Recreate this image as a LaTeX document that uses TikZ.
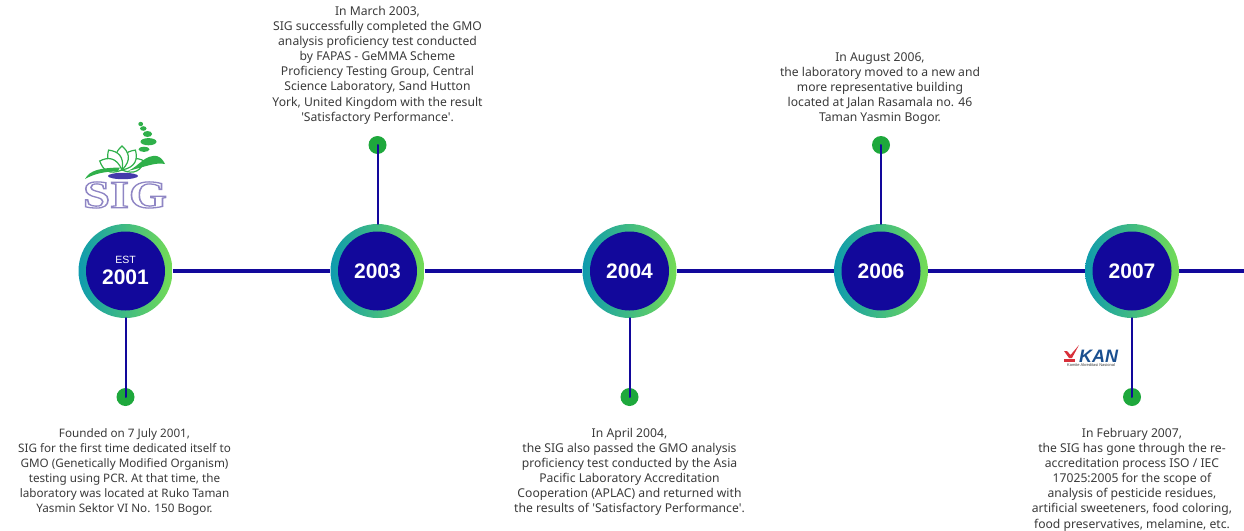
\documentclass[tikz,border=0pt]{standalone}
\usepackage{fontspec}
\newfontfamily\bodyfont{Noto Sans}
\newfontfamily\headfont{Liberation Sans}[Ligatures=TeX]
\newfontfamily\logofont{Liberation Serif}
\usetikzlibrary{calc}
\definecolor{navy}{HTML}{12089B}
\definecolor{ringL}{HTML}{0E9BAE}
\definecolor{ringR}{HTML}{74DC55}
\definecolor{dotgreen}{HTML}{1EA83C}
\definecolor{bodytxt}{HTML}{3A3A3A}
\definecolor{logopurple}{HTML}{8F86C4}
\definecolor{logogreen}{HTML}{2FB04A}
\definecolor{kanblue}{HTML}{1A4F8F}
\definecolor{kanred}{HTML}{D8303A}
\tikzset{
  x=1pt,y=-1pt,
  ring/.style={circle,minimum size=94pt,inner sep=0pt,left color=ringL,right color=ringR,draw=none},
  disc/.style={circle,minimum size=79pt,inner sep=0pt,fill=navy,text=white,align=center,font=\headfont\bfseries\fontsize{21}{23}\selectfont},
  dotnode/.style={circle,minimum size=18pt,inner sep=0pt,fill=dotgreen},
  tline/.style={draw=navy,line width=4pt},
  stem/.style={draw=navy,line width=2pt,line cap=round},
  body/.style={align=center,text=bodytxt,font=\bodyfont\fontsize{12.15}{15.1}\selectfont,inner sep=0pt},
  bodysmall/.style={body,font=\bodyfont\fontsize{11.7}{15.1}\selectfont},
  leaf/.style={draw=logogreen,line width=1.2pt,fill=white},
  bead/.style={fill=logogreen,draw=none}
}
\begin{document}
\begin{tikzpicture}
\useasboundingbox (0,0) rectangle (1244,530);
\coordinate (endR) at (1244,271);
% rings
\node[ring] (r1) at (125.5,271) {};
\node[ring] (r2) at (377.5,271) {};
\node[ring] (r3) at (629.5,271) {};
\node[ring] (r4) at (881,271) {};
\node[ring] (r5) at (1132,271) {};
% horizontal line
\draw[tline] (r1.east) -- (r2.west);
\draw[tline] (r2.east) -- (r3.west);
\draw[tline] (r3.east) -- (r4.west);
\draw[tline] (r4.east) -- (r5.west);
\draw[tline] (r5.east) -- (endR);
% dots
\node[dotnode] (d1) at (125.5,397) {};
\node[dotnode] (d2) at (377.5,145) {};
\node[dotnode] (d3) at (629.5,397) {};
\node[dotnode] (d4) at (881,145) {};
\node[dotnode] (d5) at (1132,397) {};
\draw[stem] (r1.south) -- (d1.center);
\draw[stem] (r2.north) -- (d2.center);
\draw[stem] (r3.south) -- (d3.center);
\draw[stem] (r4.north) -- (d4.center);
\draw[stem] (r5.south) -- (d5.center);
% discs
\node[disc] (y1) at (r1) {};
\node[text=white,font=\headfont\fontsize{10.5}{12}\selectfont] (est) at (125.5,260) {EST};
\node[text=white,font=\headfont\bfseries\fontsize{21}{23}\selectfont] (y1t) at (125.5,277.5) {2001};
\node[disc] (y2) at (r2) {2003};
\node[disc] (y3) at (r3) {2004};
\node[disc] (y4) at (r4) {2006};
\node[disc] (y5) at (r5) {2007};
% texts
\node[bodysmall,anchor=north] (t1) at (124.5,428) {Founded on 7 July 2001,\\SIG for the first time dedicated itself to\\GMO (Genetically Modified Organism)\\testing using PCR. At that time, the\\laboratory was located at Ruko Taman\\Yasmin Sektor VI No. 150 Bogor.};
\node[body,anchor=north] (t2) at (377.5,6) {In March 2003,\\SIG successfully completed the GMO\\analysis proficiency test conducted\\by FAPAS - GeMMA Scheme\\Proficiency Testing Group, Central\\Science Laboratory, Sand Hutton\\York, United Kingdom with the result\\'Satisfactory Performance'.};
\node[body,anchor=north] (t3) at (629.5,428) {In April 2004,\\the SIG also passed the GMO analysis\\proficiency test conducted by the Asia\\Pacific Laboratory Accreditation\\Cooperation (APLAC) and returned with\\the results of 'Satisfactory Performance'.};
\node[body,anchor=north] (t4) at (880,52.5) {In August 2006,\\the laboratory moved to a new and\\more representative building\\located at Jalan Rasamala no. 46\\Taman Yasmin Bogor.};
\node[body,anchor=north] (t5) at (1132,428) {In February 2007,\\the SIG has gone through the re-\\accreditation process ISO / IEC\\17025:2005 for the scope of\\analysis of pesticide residues,\\artificial sweeteners, food coloring,\\food preservatives, melamine, etc.};
% SIG logo
\fill[bead] (140.7,124) ellipse (2.4 and 2.2);
\fill[bead] (143.3,128.5) ellipse (3.2 and 2.3);
\fill[bead] (147.5,134) ellipse (4.6 and 3);
\fill[bead] (148.5,141.7) ellipse (8 and 3.6);
\fill[bead] (144,149.3) ellipse (5.5 and 2.6);
\foreach \a in {-68,-34,0,34,68}{
  \draw[leaf,rotate around={\a:(122,170)}] (122,170) .. controls (112,160) and (115,152) .. (122,146) .. controls (129,152) and (132,160) .. (122,170) -- cycle;
}
\fill[logogreen] (85,179) .. controls (90,170) and (100,168) .. (120,167.5) -- (118,171) .. controls (104,172) and (96,173) .. (85,179) -- cycle;
\fill[logogreen] (124,172) .. controls (136,170) and (142,157) .. (153,156) .. controls (160,155) and (163,160) .. (165,164) .. controls (155,162) and (145,167) .. (124,172) -- cycle;
\fill[navy!60!logopurple] (123,176) ellipse (15 and 3.2);
\node[inner sep=0pt,text=logopurple,font=\logofont\bfseries\fontsize{39}{39}\selectfont,xscale=1.25] (siglogo) at (125,195) {\special{pdf:code 1 Tr 1.3 w}SIG\special{pdf:code 0 Tr}};
% KAN logo
\fill[kanred] (1064,351) -- (1067,351) -- (1070.5,355) -- (1079,345) -- (1072,358) -- (1069,358) -- cycle;
\fill[kanred] (1064,358.8) rectangle (1075,361.5);
\node[inner sep=0pt,text=kanblue,font=\headfont\bfseries\itshape\fontsize{18}{18}\selectfont] (kan) at (1098.5,356) {KAN};
\node[inner sep=0pt,text=bodytxt,font=\headfont\fontsize{4}{4}\selectfont] (kansub) at (1091,365.5) {Komite Akreditasi Nasional};
\end{tikzpicture}
\end{document}
